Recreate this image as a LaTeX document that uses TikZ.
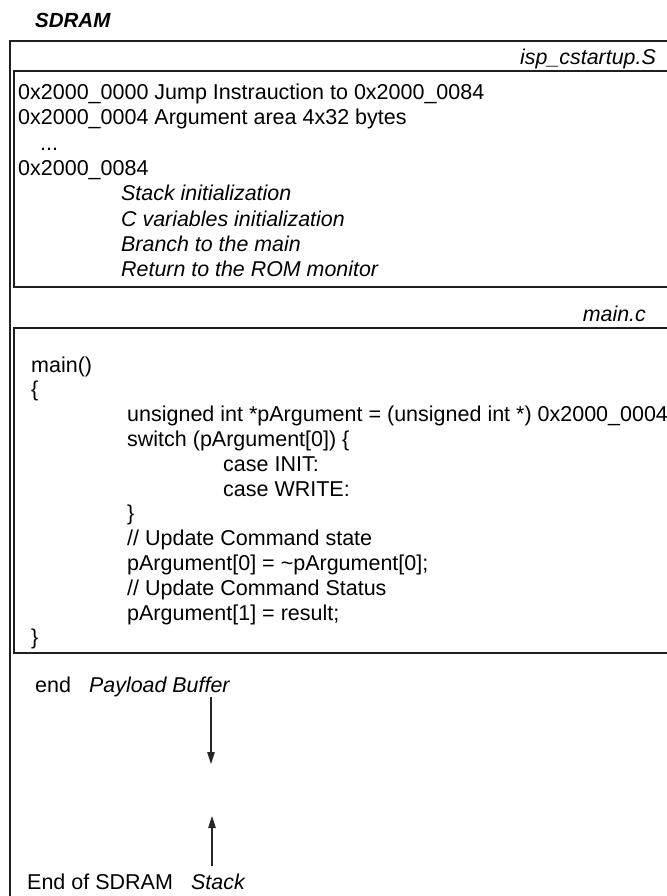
\documentclass[tikz,border=0pt]{standalone}
\usepackage{fontspec}
\setmainfont{Liberation Sans}
\usetikzlibrary{arrows.meta}
\begin{document}
\begin{tikzpicture}[x=1pt,y=-1pt,
  txt/.style={inner sep=0pt, anchor=base west, font=\fontsize{21.5}{25}\selectfont},
  ittxt/.style={txt, font=\fontsize{21.4}{25}\selectfont\itshape},
  frame/.style={line width=2pt, draw=black!88},
  arr/.style={line width=1.1pt, draw=black!85, -{Triangle[length=12pt,width=7.5pt]}}]
\useasboundingbox (0,0) rectangle (666,896);
% title
\node[inner sep=0pt, anchor=base west, font=\fontsize{20.5}{24}\selectfont\bfseries\itshape] (sdram) at (35,28) {SDRAM};
% outer SDRAM frame
\coordinate (oBL) at (10,898);
\coordinate (oTL) at (10,41);
\coordinate (oTR) at (668,41);
\draw[frame] (oBL) -- (oTL) -- (oTR);
% isp_cstartup.S box
\node[ittxt, anchor=base east] (ispname) at (656,65) {isp\_cstartup.S};
\coordinate (iTR) at (668,71);
\coordinate (iTL) at (14,71);
\coordinate (iBL) at (14,287);
\coordinate (iBR) at (668,287);
\draw[frame] (iTR) -- (iTL) -- (iBL) -- (iBR);
\node[txt] (l1) at (18,99.6) {0x2000\_0000 Jump Instrauction to 0x2000\_0084};
\node[txt] (l2) at (18,124.9) {0x2000\_0004 Argument area 4x32 bytes};
\node[txt] (l3) at (40,150.2) {...};
\node[txt] (l4) at (18,175.5) {0x2000\_0084};
\node[ittxt] (l5) at (121,200.8) {Stack initialization};
\node[ittxt] (l6) at (121,226.1) {C variables initialization};
\node[ittxt] (l7) at (121,251.4) {Branch to the main};
\node[ittxt] (l8) at (121,276.7) {Return to the ROM monitor};
% main.c box
\node[ittxt, anchor=base east] (mainname) at (646,321) {main.c};
\coordinate (mTR) at (668,328);
\coordinate (mTL) at (14,328);
\coordinate (mBL) at (14,653);
\coordinate (mBR) at (668,653);
\draw[frame] (mTR) -- (mTL) -- (mBL) -- (mBR);
\node[txt] (c1) at (31,372) {main()};
\node[txt] (c2) at (31,396.8) {\{};
\node[txt] (c3) at (127,421.6) {unsigned int *pArgument = (unsigned int *) 0x2000\_0004;};
\node[txt] (c4) at (127,446.4) {switch (pArgument[0]) \{};
\node[txt] (c5) at (223,471.2) {case INIT:};
\node[txt] (c6) at (223,496) {case WRITE:};
\node[txt] (c7) at (127,520.8) {\}};
\node[txt] (c8) at (127,545.6) {// Update Command state};
\node[txt] (c9) at (127,570.4) {pArgument[0] = \char`\~pArgument[0];};
\node[txt] (c10) at (127,595.2) {// Update Command Status};
\node[txt] (c11) at (127,620) {pArgument[1] = result;};
\node[txt] (c12) at (31,644.8) {\}};
% bottom area
\node[txt] (endl) at (35,692) {end};
\node[ittxt] (payload) at (89,692) {Payload Buffer};
\coordinate (d1) at (211,697);
\coordinate (d2) at (211,764);
\draw[arr] (d1) -- (d2);
\node[txt] (endsd) at (27,889) {End of SDRAM};
\node[ittxt] (stack) at (191,889) {Stack};
\coordinate (u1) at (212,866);
\coordinate (u2) at (212,816);
\draw[arr] (u1) -- (u2);
\end{tikzpicture}
\end{document}
